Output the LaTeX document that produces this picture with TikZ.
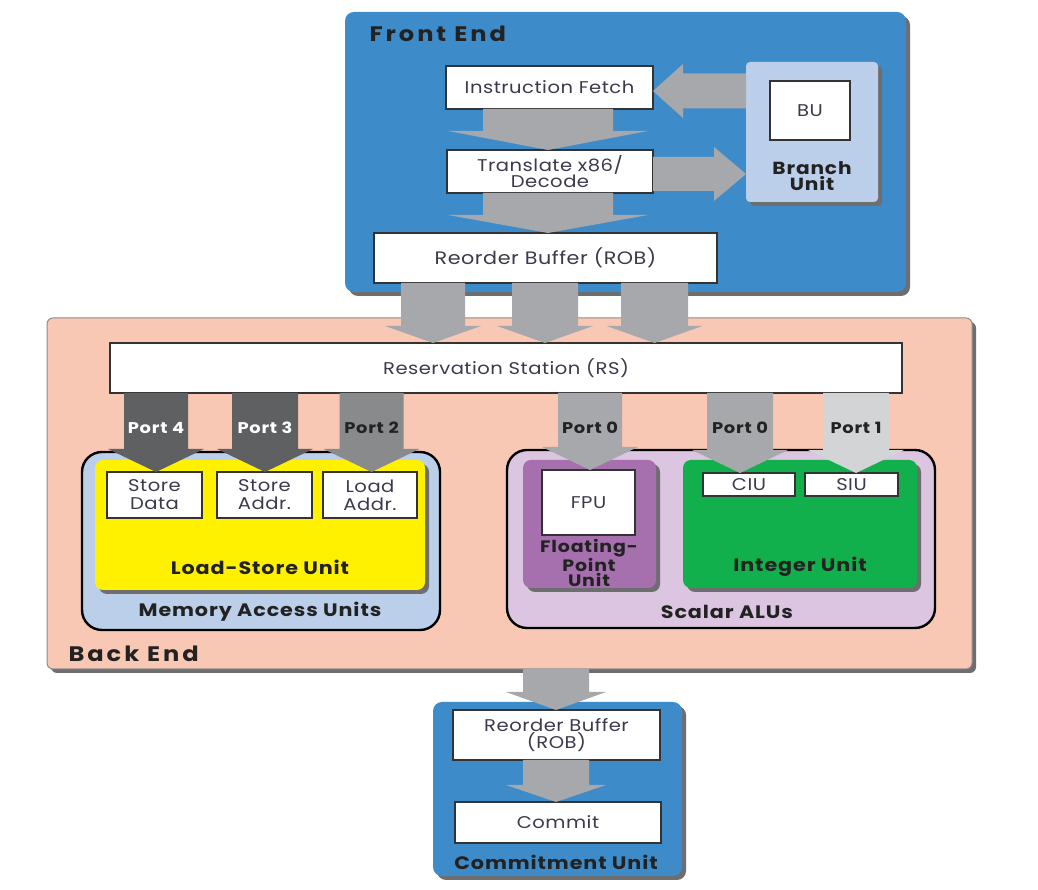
\documentclass[tikz,border=0pt]{standalone}
\usepackage{fontspec}
\setmainfont{Poppins}
\newfontfamily\boxfont[FakeStretch=1.15,LetterSpace=3]{Poppins}
\newfontfamily\lblfont[FakeStretch=1.15,LetterSpace=5]{Poppins}
\newfontfamily\bigfont[FakeStretch=1.15,LetterSpace=14]{Poppins}
\usetikzlibrary{shadows,calc}
\definecolor{feblue}{HTML}{3E8BC9}
\definecolor{lblue}{HTML}{BCCFEA}
\definecolor{peach}{HTML}{F9C8B4}
\definecolor{lav}{HTML}{DBC5E1}
\definecolor{purp}{HTML}{A670AE}
\definecolor{grn}{HTML}{12B04C}
\definecolor{yel}{HTML}{FFF100}
\definecolor{arrgray}{HTML}{A6A8AB}
\definecolor{arrdark}{HTML}{5F6062}
\definecolor{arrmid}{HTML}{898A8C}
\definecolor{arrlight}{HTML}{D3D4D6}
\definecolor{txt}{HTML}{3A3A4C}
\definecolor{lbl}{HTML}{222222}
\definecolor{shd}{HTML}{6D6E70}
\newcommand{\bx}[7]{\node[#2, minimum width={(#5)-(#3)}, minimum height={(#6)-(#4)}] (#1) at ({((#3)+(#5))/2},{890-((#4)+(#6))/2}) {#7};}
\newcommand{\darr}[7]{\fill[#1] let \p1=(#2.south), \p2=(#3.north) in
 ({(#4-#5)*1pt},\y1) -- ({(#4+#5)*1pt},\y1) -- ({(#4+#5)*1pt},{\y2+#7pt}) -- ({(#4+#6)*1pt},{\y2+#7pt}) -- ({#4*1pt},\y2) -- ({(#4-#6)*1pt},{\y2+#7pt}) -- ({(#4-#5)*1pt},{\y2+#7pt}) -- cycle;}
\newcommand{\larr}[7]{\fill[#1] let \p1=(#2.west), \p2=(#3.east) in
 (\x1,{(#4+#5)*1pt}) -- (\x1,{(#4-#5)*1pt}) -- ({\x2+#7pt},{(#4-#5)*1pt}) -- ({\x2+#7pt},{(#4-#6)*1pt}) -- (\x2,{#4*1pt}) -- ({\x2+#7pt},{(#4+#6)*1pt}) -- ({\x2+#7pt},{(#4+#5)*1pt}) -- cycle;}
\newcommand{\rarr}[7]{\fill[#1] let \p1=(#2.east), \p2=(#3.west) in
 (\x1,{(#4+#5)*1pt}) -- (\x1,{(#4-#5)*1pt}) -- ({\x2-#7pt},{(#4-#5)*1pt}) -- ({\x2-#7pt},{(#4-#6)*1pt}) -- (\x2,{#4*1pt}) -- ({\x2-#7pt},{(#4+#6)*1pt}) -- ({\x2-#7pt},{(#4+#5)*1pt}) -- cycle;}
\tikzset{
 sh/.style={drop shadow={shadow xshift=4pt, shadow yshift=-4pt, fill=shd, opacity=1, shadow scale=1}},
 region/.style={inner sep=0pt, outer sep=0pt, rounded corners=9pt, sh},
 wbox/.style={fill=white, draw=black!80, line width=1.4pt, inner sep=0pt, outer sep=0pt, text=txt, font=\boxfont\fontsize{17}{16}\selectfont, align=center},
 grp/.style={draw=black, line width=2.4pt, rounded corners=20pt, inner sep=0pt, outer sep=0pt},
 big/.style={font=\bigfont\fontsize{21}{22}\bfseries\selectfont, text=lbl},
 mid/.style={font=\lblfont\fontsize{18}{15}\bfseries\selectfont, text=lbl, align=center},
 port/.style={font=\lblfont\fontsize{15.5}{16}\bfseries\selectfont},
}
\begin{document}
\begin{tikzpicture}[x=1pt,y=1pt]
\useasboundingbox (0,0) rectangle (1038,890);
\fill[white] (0,0) rectangle (1038,890);
% regions
\bx{fe}{region, fill=feblue}{345}{12}{906}{292}{}
\bx{be}{region, fill=peach, draw=black!45, line width=1pt, rounded corners=6pt}{47}{318}{972}{669}{}
\bx{cu}{region, fill=feblue}{433}{702}{682}{876}{}
\node[big, anchor=west] (felbl) at (366,{890-34}) {Front End};
\node[big, anchor=west] (belbl) at (65,{890-654}) {Back End};
% front end boxes
\bx{bunit}{region, fill=lblue, rounded corners=4pt}{746}{62}{878}{202}{}
\bx{bu}{wbox}{770}{81}{850}{140}{BU}
\node[mid, font=\lblfont\fontsize{17.5}{16}\bfseries\selectfont] (bulbl) at (812,{890-176}) {Branch\\Unit};
\bx{if}{wbox}{446}{66}{653}{109}{Instruction Fetch}
\bx{td}{wbox, font=\boxfont\fontsize{17}{14.5}\selectfont}{447}{150}{653}{193}{Translate x86/\\Decode}
\bx{rob}{wbox, font=\boxfont\fontsize{18}{16}\selectfont}{374}{233}{717}{283}{Reorder Buffer (ROB)}
\darr{arrgray}{if}{td}{548}{65}{100}{19}
\darr{arrgray}{td}{rob}{548}{65}{100}{18}
\larr{arrgray}{bunit}{if}{799}{17.5}{27}{30}
\rarr{arrgray}{td}{bunit}{716}{17}{27}{32}
% back end
\bx{rs}{wbox}{110}{343}{902}{393}{Reservation Station (RS)}
\darr{arrgray}{rob}{rs}{433}{32}{48}{17}
\darr{arrgray}{rob}{rs}{545}{33}{48}{17}
\darr{arrgray}{rob}{rs}{654.5}{33.5}{48}{17}
% memory access units
\bx{mau}{grp, fill=lblue}{82}{452}{440}{630}{}
\bx{lsu}{region, fill=yel, rounded corners=8pt}{95}{460}{425}{590}{}
\bx{sd}{wbox, font=\boxfont\fontsize{17}{18}\selectfont}{107}{472}{202}{518}{Store\\Data}
\bx{sa}{wbox, font=\boxfont\fontsize{17}{18}\selectfont}{217}{472}{312}{518}{Store\\Addr.}
\bx{la}{wbox, font=\boxfont\fontsize{17}{18}\selectfont}{323}{472}{417}{518}{Load\\Addr.}
\node[mid] (lsulbl) at (260,{890-567}) {Load-Store Unit};
\node[mid] (maulbl) at (260,{890-612}) {Memory Access Units};
% scalar ALUs
\bx{alu}{grp, fill=lav}{507}{450}{935}{628}{}
\bx{fp}{region, fill=purp, rounded corners=8pt}{523}{460}{656}{588}{}
\bx{iu}{region, fill=grn, rounded corners=8pt}{683}{460}{917}{588}{}
\bx{fpu}{wbox}{542}{470}{635}{535}{FPU}
\bx{ciu}{wbox}{703}{473}{795}{496}{CIU}
\bx{siu}{wbox}{805}{473}{898}{496}{SIU}
\node[mid, font=\lblfont\fontsize{16.5}{15.5}\bfseries\selectfont] (fplbl) at (589,{890-563}) {Floating-\\Point\\Unit};
\node[mid] (iulbl) at (800,{890-567}) {Integer Unit};
\node[mid] (alulbl) at (727,{890-612}) {Scalar ALUs};
% ports
\darr{arrdark}{rs}{sd}{156}{32}{48}{23}
\darr{arrdark}{rs}{sa}{265}{33}{48}{23}
\darr{arrmid}{rs}{la}{371.5}{32}{48}{23}
\darr{arrgray}{rs}{fpu}{590}{32}{48}{23}
\darr{arrgray}{rs}{ciu}{740}{33}{48}{23}
\darr{arrlight}{rs}{siu}{856}{33}{48}{23}
\node[port, text=white] (p4) at (156,{890-428}) {Port 4};
\node[port, text=white] (p3) at (265,{890-428}) {Port 3};
\node[port, text=lbl] (p2) at (371.5,{890-428}) {Port 2};
\node[port, text=lbl] (p0a) at (590,{890-428}) {Port 0};
\node[port, text=lbl] (p0b) at (740,{890-428}) {Port 0};
\node[port, text=lbl] (p1) at (856,{890-428}) {Port 1};
% commitment
\bx{rob2}{wbox, font=\boxfont\fontsize{17}{16}\selectfont}{453}{710}{660}{760}{Reorder Buffer\\(ROB)}
\bx{com}{wbox}{455}{802}{661}{843}{Commit}
\darr{arrgray}{be}{rob2}{556}{33}{50}{18}
\darr{arrgray}{rob2}{com}{556}{33}{50}{17}
\node[mid] (culbl) at (556,{890-862}) {Commitment Unit};
\end{tikzpicture}
\end{document}
